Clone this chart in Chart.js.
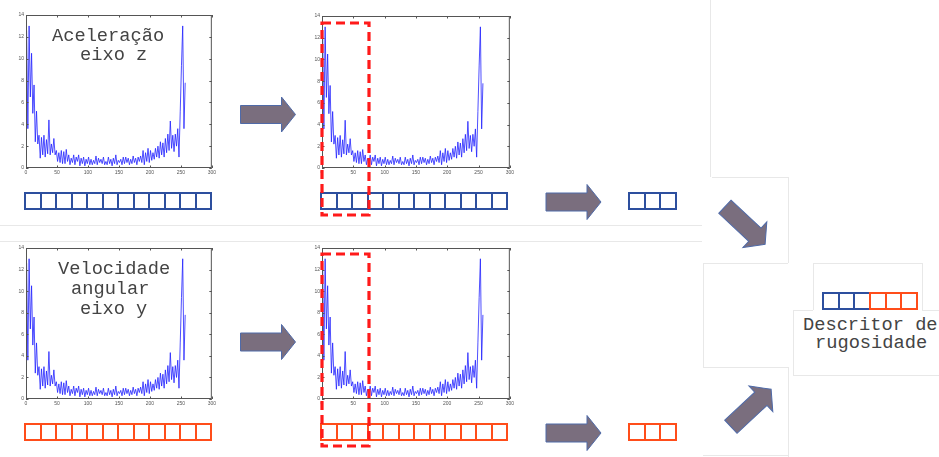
<!DOCTYPE html>
<html>
<head>
<meta charset="utf-8">
<script src="https://cdn.jsdelivr.net/npm/chart.js@4/dist/chart.umd.min.js"></script>
<style>
  html, body { margin: 0; padding: 0; background: #fff; }
  #stage { position: relative; width: 939px; height: 457px; overflow: hidden; }
  .plot { position: absolute; }
  .label { position: absolute; font-family: "Liberation Mono", "DejaVu Sans Mono", monospace;
           font-size: 18.7px; line-height: 20px; color: #444; white-space: pre; }
  .row { position: absolute; display: flex; box-sizing: border-box; border: 2px solid; }
  .row div { flex: 1; border-left: 2px solid; }
  .row div:first-child { border-left: none; }
  .faint { position: absolute; background: #e8e8e8; }
  svg { position: absolute; left: 0; top: 0; }
</style>
</head>
<body>
<div id="stage">
  <canvas id="accZ"></canvas>
  <canvas id="accZCut"></canvas>
  <canvas id="gyrY"></canvas>
  <canvas id="gyrYCut"></canvas>
</div>
<script>
// spectrum magnitude, sampled every 2 bins starting at bin 1
const magnitude = [
  12.6, 3.6, 13.0, 6.5, 10.5, 5.0, 7.6, 2.4, 5.2, 2.2,
  3.0, 0.9, 2.8, 1.2, 3.0, 1.0, 2.6, 1.3, 4.4, 1.2,
  2.2, 1.4, 2.7, 1.2, 1.6, 0.6, 1.4, 0.5, 1.6, 0.4,
  1.5, 0.4, 1.7, 0.6, 1.2, 0.3, 0.9, 0.5, 1.2, 0.3,
  1.0, 0.6, 1.2, 0.2, 0.9, 0.4, 1.0, 0.2, 0.8, 0.4,
  1.0, 0.3, 0.8, 0.3, 0.7, 0.4, 1.1, 0.3, 0.9, 0.5,
  0.8, 0.4, 1.0, 0.3, 0.6, 0.3, 1.0, 0.4, 0.8, 0.2,
  0.9, 0.4, 1.2, 0.3, 0.7, 0.5, 0.8, 0.3, 1.0, 0.4,
  1.0, 0.5, 0.9, 0.3, 0.8, 0.4, 1.1, 0.5, 0.9, 0.3,
  1.0, 0.6, 1.1, 0.5, 1.6, 0.3, 1.4, 0.6, 1.8, 0.5,
  1.6, 0.7, 1.4, 0.8, 1.8, 1.0, 2.0, 0.9, 2.4, 1.2,
  2.3, 1.0, 2.7, 1.4, 3.1, 1.6, 4.3, 1.8, 3.0, 1.5,
  3.1, 2.0, 3.6, 1.0, 5.2, 9.4, 13.0, 3.6, 7.8
];
const bins = magnitude.map((_, i) => 1 + 2 * i);

const xTicks = [0, 50, 100, 150, 200, 250, 300];
const yTicks = [0, 2, 4, 6, 8, 10, 12, 14];

const Y_AXIS_W = 14, X_AXIS_H = 9, PAD_TOP = 4, PAD_RIGHT = 6;

// MATLAB style box with inward ticks
const frame = {
  id: 'frame',
  afterDatasetsDraw(chart) {
    const { ctx, chartArea: a, scales: { x, y } } = chart;
    ctx.save();
    ctx.strokeStyle = '#555';
    ctx.lineWidth = 1;
    ctx.strokeRect(a.left + 0.5, a.top + 0.5, a.width - 1, a.height - 1);
    ctx.beginPath();
    xTicks.forEach(v => {
      const px = Math.round(x.getPixelForValue(v)) + 0.5;
      ctx.moveTo(px, a.bottom); ctx.lineTo(px, a.bottom - 2.5);
      ctx.moveTo(px, a.top); ctx.lineTo(px, a.top + 2.5);
    });
    yTicks.forEach(v => {
      const py = Math.round(y.getPixelForValue(v)) + 0.5;
      ctx.moveTo(a.left, py); ctx.lineTo(a.left + 2.5, py);
      ctx.moveTo(a.right, py); ctx.lineTo(a.right - 2.5, py);
    });
    ctx.stroke();
    ctx.restore();
  }
};

function makeSpectrum(id, left, top, right, bottom) {
  const canvas = document.getElementById(id);
  const box = document.createElement('div');
  box.className = 'plot';
  box.style.left = (left - Y_AXIS_W) + 'px';
  box.style.top = (top - PAD_TOP) + 'px';
  box.style.width = (right - left + Y_AXIS_W + PAD_RIGHT) + 'px';
  box.style.height = (bottom - top + PAD_TOP + X_AXIS_H) + 'px';
  canvas.parentNode.insertBefore(box, canvas);
  box.appendChild(canvas);

  const tickFont = { family: 'Arial, "Liberation Sans", sans-serif', size: 5 };
  new Chart(canvas, {
    type: 'line',
    data: {
      datasets: [{
        data: bins.map((b, i) => ({ x: b, y: magnitude[i] })),
        borderColor: 'rgba(35,35,255,0.8)',
        borderWidth: 1,
        pointRadius: 0,
        tension: 0
      }]
    },
    options: {
      responsive: true,
      maintainAspectRatio: false,
      animation: false,
      layout: { padding: { top: PAD_TOP, right: PAD_RIGHT, left: 0, bottom: 0 } },
      plugins: { legend: { display: false }, tooltip: { enabled: false } },
      scales: {
        x: {
          type: 'linear', min: 0, max: 300,
          grid: { display: false, drawTicks: false }, border: { display: false },
          afterBuildTicks: s => { s.ticks = xTicks.map(v => ({ value: v })); },
          afterFit: s => { s.height = X_AXIS_H; },
          ticks: { color: '#555', font: tickFont, padding: 2, maxRotation: 0, autoSkip: false }
        },
        y: {
          min: 0, max: 14,
          grid: { display: false, drawTicks: false }, border: { display: false },
          afterBuildTicks: s => { s.ticks = yTicks.map(v => ({ value: v })); },
          afterFit: s => { s.width = Y_AXIS_W; },
          ticks: { color: '#555', font: tickFont, padding: 2, autoSkip: false }
        }
      }
    },
    plugins: [frame]
  });
}

makeSpectrum('accZ', 26, 14, 212, 168);
makeSpectrum('accZCut', 322, 15, 510, 168);
makeSpectrum('gyrY', 26, 247, 212, 399);
makeSpectrum('gyrYCut', 322, 247, 510, 399);

const stage = document.getElementById('stage');

// faint slide edges
[
  [0, 225, 702, 1], [0, 241, 702, 1], [710, 0, 1, 177],
  [712, 177, 76, 1], [788, 177, 1, 86], [703, 263, 85, 1],
  [703, 263, 1, 104], [703, 367, 85, 1], [788, 367, 1, 90], [703, 455, 85, 1],
  [813, 263, 109, 1], [813, 263, 1, 47], [922, 263, 1, 47],
  [793, 310, 20, 1], [922, 310, 17, 1], [793, 310, 1, 65], [793, 375, 146, 1]
].forEach(([l, t, w, h]) => {
  const d = document.createElement('div');
  d.className = 'faint';
  Object.assign(d.style, { left: l + 'px', top: t + 'px', width: w + 'px', height: h + 'px' });
  stage.appendChild(d);
});

// feature vectors
const BLUE = '#2d4f9e', ORANGE = '#ff4d1a';
function cells(left, top, width, height, colors) {
  const row = document.createElement('div');
  row.className = 'row';
  Object.assign(row.style, { left: left + 'px', top: top + 'px', width: width + 'px', height: height + 'px', borderColor: colors[0] });
  colors.forEach(c => {
    const cell = document.createElement('div');
    cell.style.borderColor = c;
    row.appendChild(cell);
  });
  stage.appendChild(row);
  return row;
}
cells(24, 192, 188, 18, Array(12).fill(BLUE));
cells(320, 192, 188, 18, Array(12).fill(BLUE));
cells(628, 192, 49, 18, Array(3).fill(BLUE));
cells(24, 423, 188, 18, Array(12).fill(ORANGE));
cells(320, 423, 188, 18, Array(12).fill(ORANGE));
cells(628, 423, 49, 18, Array(3).fill(ORANGE));
const both = cells(822, 292, 96, 18, [BLUE, BLUE, BLUE, ORANGE, ORANGE, ORANGE]);
both.style.borderRightColor = ORANGE;
both.style.borderTop = 'none';
both.style.borderBottom = 'none';
both.style.background =
  `linear-gradient(${BLUE},${BLUE}) left top / 50% 2px no-repeat,` +
  `linear-gradient(${ORANGE},${ORANGE}) right top / 50% 2px no-repeat,` +
  `linear-gradient(${BLUE},${BLUE}) left bottom / 50% 2px no-repeat,` +
  `linear-gradient(${ORANGE},${ORANGE}) right bottom / 50% 2px no-repeat`;

// text
[
  ['Aceleração', 52, 26], ['eixo z', 80, 45],
  ['Velocidade', 58, 259], ['angular', 71, 279], ['eixo y', 80, 299],
  ['Descritor de', 803, 315], ['rugosidade', 815, 333]
].forEach(([txt, l, t]) => {
  const d = document.createElement('div');
  d.className = 'label';
  d.textContent = txt;
  Object.assign(d.style, { left: l + 'px', top: t + 'px' });
  stage.appendChild(d);
});

// arrows and selection windows
const NS = 'http://www.w3.org/2000/svg';
const svg = document.createElementNS(NS, 'svg');
svg.setAttribute('width', 939);
svg.setAttribute('height', 457);
stage.appendChild(svg);

function arrow(cx, cy, angle) {
  const p = document.createElementNS(NS, 'polygon');
  // length 55, shaft 18 high, head 35 high and 14 long
  p.setAttribute('points', '-27.5,-9 13.5,-9 13.5,-17.5 27.5,0 13.5,17.5 13.5,9 -27.5,9');
  p.setAttribute('transform', `translate(${cx},${cy}) rotate(${angle})`);
  p.setAttribute('fill', '#7a6e7e');
  p.setAttribute('stroke', '#4f6aa8');
  p.setAttribute('stroke-width', '1');
  svg.appendChild(p);
}
arrow(268, 114.5, 0);
arrow(268, 342, 0);
arrow(573.5, 202, 0);
arrow(573.5, 433, 0);
arrow(745, 225.5, 43);
arrow(751, 408, -43);

function windowRect(x, y, w, h) {
  const r = document.createElementNS(NS, 'rect');
  Object.entries({ x, y, width: w, height: h, fill: 'none', stroke: '#ff1a1a',
    'stroke-width': 3.2, 'stroke-dasharray': '9 5' }).forEach(([k, v]) => r.setAttribute(k, v));
  svg.appendChild(r);
}
windowRect(322, 23, 47, 192);
windowRect(322, 254, 47, 192);
</script>
</body>
</html>
